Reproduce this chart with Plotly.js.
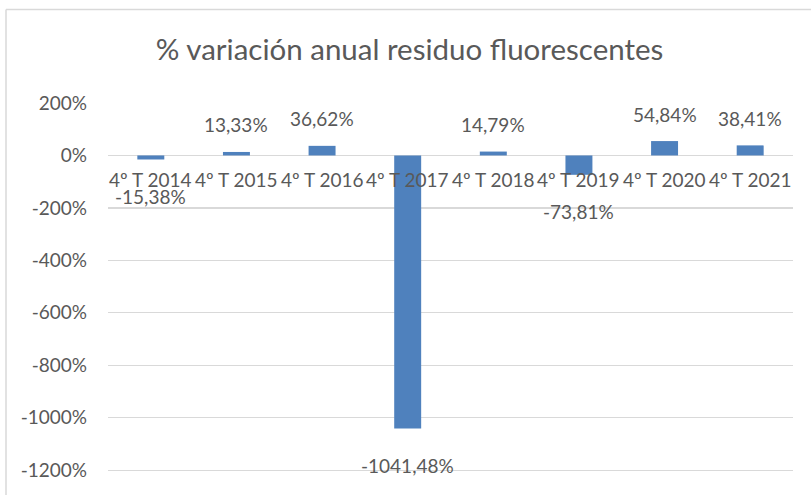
<!DOCTYPE html>
<html>
<head>
<meta charset="utf-8">
<script src="https://cdn.plot.ly/plotly-3.0.1.min.js"></script>
<style>
html,body{margin:0;padding:0;background:#fff;}
#chart{width:811px;height:495px;}
</style>
</head>
<body>
<div id="chart"></div>
<script>
const categories = ["4º T 2014","4º T 2015","4º T 2016","4º T 2017","4º T 2018","4º T 2019","4º T 2020","4º T 2021"];
const variation = [-15.38, 13.33, 36.62, -1041.48, 14.79, -73.81, 54.84, 38.41];
const yTickVals = [-1200, -1000, -800, -600, -400, -200, 0, 200];
const yTickText = ["-1200%", "-1000%", "-800%", "-600%", "-400%", "-200%", "0%", "200%"];

const textColor = "#595959";
const fontFam = "Lato, 'Open Sans', sans-serif";

function fmt(v){ return v.toFixed(2).replace('.', ',') + '%'; }

const annotations = [];
categories.forEach((c, i) => {
  annotations.push({
    x: c, y: 0, xref: 'x', yref: 'y',
    text: c, showarrow: false,
    yanchor: 'middle', yshift: -24,
    font: {family: fontFam, size: 19, color: textColor}
  });
  const v = variation[i];
  annotations.push({
    x: c, y: v, xref: 'x', yref: 'y',
    text: fmt(v), showarrow: false,
    yanchor: 'middle', yshift: v >= 0 ? 27 : -37,
    font: {family: fontFam, size: 19, color: textColor}
  });
});

const data = [{
  type: 'bar',
  x: categories,
  y: variation,
  marker: {color: '#4f81bd', line: {width: 0}},
  hoverinfo: 'x+y'
}];

const layout = {
  width: 811, height: 495,
  margin: {l: 108, r: 18, t: 103, b: 23},
  paper_bgcolor: '#ffffff', plot_bgcolor: '#ffffff',
  bargap: 0.685,
  showlegend: false,
  title: {
    text: '% variación anual residuo fluorescentes',
    font: {family: fontFam, size: 29.5, color: textColor},
    xref: 'container', x: 0.505, xanchor: 'center',
    yref: 'container', y: 1 - 50/495, yanchor: 'middle'
  },
  xaxis: {
    type: 'category', range: [-0.5, 7.5],
    showticklabels: false, showgrid: false, zeroline: false, showline: false, ticks: ''
  },
  yaxis: {
    range: [-1207, 200],
    tickmode: 'array', tickvals: yTickVals, ticktext: yTickText,
    showgrid: true, gridcolor: '#d9d9d9', gridwidth: 1.3,
    zeroline: true, zerolinecolor: '#d9d9d9', zerolinewidth: 1.3,
    showline: false, ticks: '',
    ticklabelstandoff: 20,
    tickfont: {family: fontFam, size: 19, color: textColor}
  },
  annotations: annotations,
  shapes: [
    {type: 'line', xref: 'paper', yref: 'paper', x0: (6-108)/685, x1: 1.5, y0: 1 + (103-9.5)/369, y1: 1 + (103-9.5)/369, line: {color: '#d9d9d9', width: 1.5}},
    {type: 'line', xref: 'paper', yref: 'paper', x0: (6-108)/685, x1: (6-108)/685, y0: 1 + (103-9.5)/369, y1: -0.5, line: {color: '#d9d9d9', width: 1.5}}
  ]
};

Plotly.newPlot('chart', data, layout, {displayModeBar: false, staticPlot: true});
</script>
</body>
</html>
